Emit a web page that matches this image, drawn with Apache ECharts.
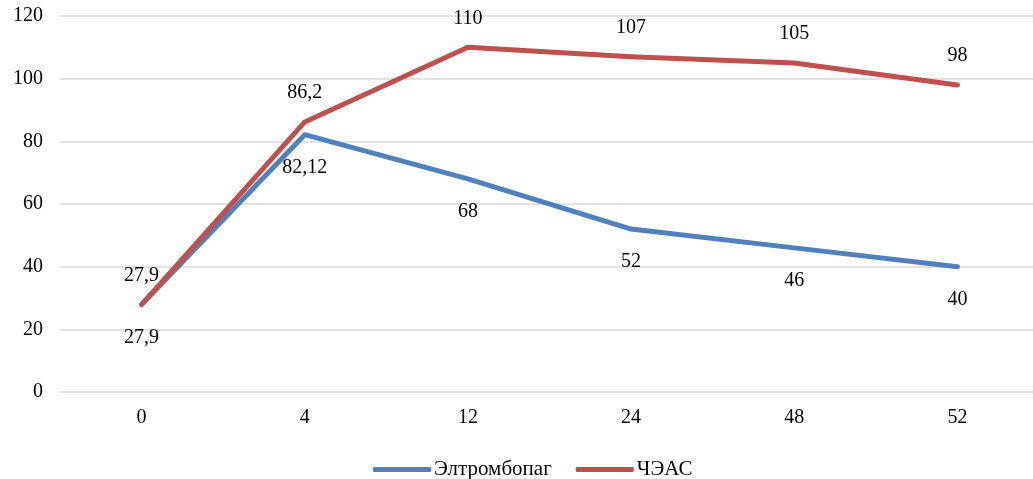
<!DOCTYPE html>
<html>
<head>
<meta charset="utf-8">
<script src="https://cdn.jsdelivr.net/npm/echarts@6/dist/echarts.min.js"></script>
<style>
html,body{margin:0;padding:0;background:#fff;overflow:hidden;}
#wrap{width:1033px;height:479px;overflow:hidden;}
#chart{width:1045px;height:479px;}
</style>
</head>
<body>
<div id="wrap"><div id="chart"></div></div>
<script>
const categories = ['0', '4', '12', '24', '48', '52'];
const seriesNames = ['Элтромбопаг', 'ЧЭАС'];
const eltrombopag = [27.9, 82.12, 68, 52, 46, 40];
const cheas = [27.9, 86.2, 110, 107, 105, 98];
const yTicks = { min: 0, max: 120, interval: 20 };

const font = '"Liberation Serif", "Times New Roman", serif';
const fmt = p => String(p.value).replace('.', ',');

const chart = echarts.init(document.getElementById('chart'));
chart.setOption({
  animation: false,
  textStyle: { fontFamily: font },
  grid: { left: 60, top: 16, width: 979, height: 376, containLabel: false },
  legend: {
    data: seriesNames,
    top: 454,
    left: 368,
    icon: 'roundRect',
    itemWidth: 58,
    itemHeight: 5,
    itemGap: 24,
    textStyle: { fontFamily: font, fontSize: 21, color: '#000', padding: [0, 0, 0, -2] }
  },
  xAxis: {
    type: 'category',
    data: categories,
    boundaryGap: true,
    axisLine: { show: false },
    axisTick: { show: false },
    axisLabel: { fontFamily: font, fontSize: 20, color: '#000', margin: 16 }
  },
  yAxis: {
    type: 'value',
    min: yTicks.min,
    max: yTicks.max,
    interval: yTicks.interval,
    axisLine: { show: false },
    axisTick: { show: false },
    splitLine: { lineStyle: { color: '#d9d9d9', width: 1.5 } },
    axisLabel: { fontFamily: font, fontSize: 20, color: '#000', margin: 17 }
  },
  series: [
    {
      name: seriesNames[0],
      type: 'line',
      data: eltrombopag,
      showSymbol: true,
      symbol: 'circle',
      symbolSize: 0,
      lineStyle: { color: '#4F81BD', width: 5, cap: 'round', join: 'round' },
      itemStyle: { color: '#4F81BD' },
      label: { show: true, position: 'bottom', distance: 23, formatter: fmt, fontFamily: font, fontSize: 20, color: '#000' }
    },
    {
      name: seriesNames[1],
      type: 'line',
      data: cheas,
      showSymbol: true,
      symbol: 'circle',
      symbolSize: 0,
      lineStyle: { color: '#C0504D', width: 5, cap: 'round', join: 'round' },
      itemStyle: { color: '#C0504D' },
      label: { show: true, position: 'top', distance: 19, formatter: fmt, fontFamily: font, fontSize: 20, color: '#000' }
    }
  ]
});
</script>
</body>
</html>
